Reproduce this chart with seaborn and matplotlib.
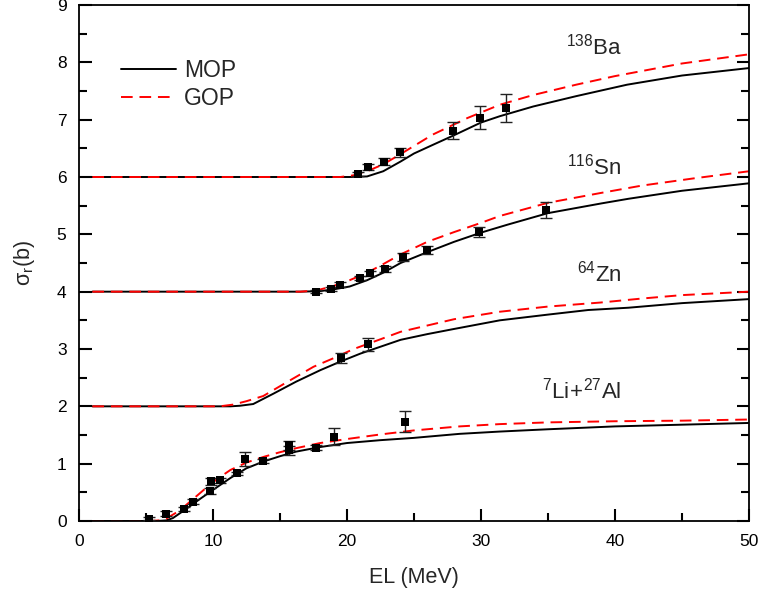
import matplotlib
matplotlib.use("Agg")
import matplotlib.pyplot as plt
import seaborn as sns
import numpy as np
import pandas as pd
from matplotlib.ticker import MultipleLocator

# ---- curve data (theory) ----
li_mop_x = [1, 5.8, 6.5, 7.0, 8.0, 9.0, 9.8, 11.3, 12.5, 13.8, 15, 16.2, 18, 20, 22.5, 25, 28.4, 31.4, 35, 40, 45, 50]
li_mop_y = [0, 0, 0.01, 0.05, 0.21, 0.38, 0.51, 0.75, 0.92, 1.04, 1.13, 1.21, 1.29, 1.36, 1.41, 1.45, 1.52, 1.56, 1.6, 1.65, 1.68, 1.71]
li_gop_x = [1, 5.2, 6.0, 6.5, 7.5, 8.5, 9.3, 10.3, 11.3, 12.5, 13.8, 15, 16.2, 18, 20, 22.5, 25, 28.4, 31.4, 35, 40, 45, 50]
li_gop_y = [0, 0, 0.01, 0.04, 0.18, 0.38, 0.54, 0.73, 0.89, 1.02, 1.12, 1.2, 1.27, 1.36, 1.43, 1.51, 1.58, 1.65, 1.69, 1.72, 1.74, 1.75, 1.77]

zn_mop_x = [1, 11.3, 12.0, 13.0, 14.5, 16.2, 18, 19.5, 21, 22.5, 24, 26, 28, 31.4, 35, 38, 41, 45, 50]
zn_mop_y = [2, 2, 2.01, 2.04, 2.22, 2.43, 2.63, 2.78, 2.92, 3.04, 3.16, 3.26, 3.35, 3.5, 3.6, 3.68, 3.72, 3.8, 3.87]
zn_gop_x = [1, 10.5, 11.5, 12.5, 13.75, 15.5, 17.5, 19, 20.5, 22.5, 24, 26, 28, 31.4, 35, 38.9, 42, 45, 50]
zn_gop_y = [2, 2, 2.03, 2.09, 2.18, 2.42, 2.69, 2.84, 3.0, 3.17, 3.3, 3.41, 3.52, 3.65, 3.74, 3.81, 3.88, 3.94, 4.0]

sn_mop_x = [1, 16.5, 18, 19, 20.2, 21.5, 22.7, 24, 26, 28, 30, 32, 35, 39, 41, 45, 50]
sn_mop_y = [4, 4, 4.01, 4.04, 4.09, 4.2, 4.33, 4.5, 4.69, 4.87, 5.03, 5.17, 5.37, 5.54, 5.62, 5.76, 5.89]
sn_gop_x = [1, 16.5, 17.7, 19, 20.2, 21.5, 22.7, 24, 26, 28, 30, 31.4, 35, 38.9, 42, 46, 50]
sn_gop_y = [4, 4, 4.02, 4.1, 4.2, 4.33, 4.48, 4.65, 4.87, 5.04, 5.2, 5.32, 5.55, 5.72, 5.85, 5.98, 6.1]

ba_mop_x = [1, 20.2, 21.5, 22.7, 24, 25, 26.4, 28, 29, 30, 31.4, 33.9, 37.1, 40.9, 45, 50]
ba_mop_y = [6, 6, 6.01, 6.1, 6.27, 6.41, 6.56, 6.73, 6.84, 6.95, 7.06, 7.23, 7.41, 7.61, 7.77, 7.9]
ba_gop_x = [1, 19.5, 20.5, 21.5, 22.7, 24, 26.4, 29, 31.4, 33.9, 37.1, 40, 45, 50]
ba_gop_y = [6, 6, 6.03, 6.1, 6.22, 6.4, 6.74, 7.03, 7.26, 7.43, 7.61, 7.76, 7.98, 8.14]

# ---- experimental points ----
li_x = [5.2, 6.5, 7.8, 8.5, 9.8, 9.85, 10.5, 11.8, 12.4, 13.7, 15.7, 15.7, 17.7, 19.0, 24.3]
li_y = [0.04, 0.13, 0.21, 0.34, 0.52, 0.69, 0.71, 0.83, 1.08, 1.05, 1.23, 1.32, 1.28, 1.47, 1.73]
li_e = [0.03, 0.04, 0.03, 0.04, 0.05, 0.06, 0.04, 0.03, 0.12, 0.04, 0.08, 0.08, 0.04, 0.15, 0.18]
zn_x = [19.55, 21.55]
zn_y = [2.84, 3.08]
zn_e = [0.09, 0.12]
sn_x = [17.7, 18.8, 19.5, 21.0, 21.7, 22.8, 24.15, 25.95, 29.87, 34.85]
sn_y = [4.0, 4.05, 4.12, 4.24, 4.32, 4.39, 4.61, 4.72, 5.04, 5.43]
sn_e = [0.03, 0.03, 0.04, 0.04, 0.04, 0.05, 0.07, 0.07, 0.09, 0.14]
ba_x = [20.8, 21.6, 22.75, 23.95, 27.9, 29.9, 31.9]
ba_y = [6.05, 6.18, 6.27, 6.43, 6.81, 7.03, 7.2]
ba_e = [0.03, 0.05, 0.06, 0.08, 0.15, 0.2, 0.24]

labels = [r"$\mathregular{^{138}Ba}$", r"$\mathregular{^{116}Sn}$",
          r"$\mathregular{^{64}Zn}$", r"$\mathregular{^{7}Li\!+\!^{27}Al}$"]
label_y = [8.14, 6.05, 4.17, 2.13]

sns.set_style("ticks")
plt.rcParams["font.family"] = ["Liberation Sans", "DejaVu Sans"]
plt.rcParams["mathtext.fontset"] = "custom"
plt.rcParams["mathtext.rm"] = "Liberation Sans"
plt.rcParams["mathtext.it"] = "Liberation Sans:italic"
plt.rcParams["mathtext.bf"] = "Liberation Sans:bold"

fig = plt.figure(figsize=(7.63, 5.97), dpi=100)
ax = fig.add_axes([79/763, 76/597, 670/763, 516/597])

curves = [
    (li_mop_x, li_mop_y, li_gop_x, li_gop_y),
    (zn_mop_x, zn_mop_y, zn_gop_x, zn_gop_y),
    (sn_mop_x, sn_mop_y, sn_gop_x, sn_gop_y),
    (ba_mop_x, ba_mop_y, ba_gop_x, ba_gop_y),
]
for i, (mx, my, gx, gy) in enumerate(curves):
    sns.lineplot(x=mx, y=my, ax=ax, color="black", lw=1.4, estimator=None, sort=False,
                 label="MOP" if i == 0 else None)
    sns.lineplot(x=gx, y=gy, ax=ax, color="red", lw=1.4, estimator=None, sort=False,
                 dashes=False, label="GOP" if i == 0 else None)
    ax.lines[-1].set_dashes([6, 3.5])

for px, py, pe in [(li_x, li_y, li_e), (zn_x, zn_y, zn_e), (sn_x, sn_y, sn_e), (ba_x, ba_y, ba_e)]:
    ax.errorbar(px, py, yerr=pe, fmt="none", ecolor="#222222", elinewidth=1.0,
                capsize=4, capthick=1.0, zorder=3)
    sns.scatterplot(x=px, y=py, ax=ax, marker="s", color="black", s=36,
                    edgecolor="black", linewidth=0, zorder=4)

for t, yy in zip(labels, label_y):
    ax.text(40.5, yy, t, fontsize=16, ha="right", va="baseline")

ax.set_xlabel("EL (MeV)", fontsize=15.5, labelpad=13)
ax.set_ylabel(r"σ$_\mathregular{r}$(b)", fontsize=15.5, labelpad=14)

leg = ax.legend(loc="upper left", bbox_to_anchor=(0.032, 0.935), frameon=False,
                fontsize=16.5, handlelength=2.4, handletextpad=0.35, labelspacing=0.2)

for s in ax.spines.values():
    s.set_linewidth(1.3)
    s.set_color("black")

# axis setup last
ax.set_xlim(0, 50)
ax.set_ylim(0, 9)
ax.xaxis.set_major_locator(MultipleLocator(10))
ax.xaxis.set_minor_locator(MultipleLocator(5))
ax.yaxis.set_major_locator(MultipleLocator(1))
ax.yaxis.set_minor_locator(MultipleLocator(0.5))
ax.tick_params(which="both", direction="in", right=True, width=1.5, color="black")
ax.tick_params(which="major", length=9, pad=9, labelsize=12.5, labelcolor="black")
ax.tick_params(which="minor", length=5.5)

fig.savefig("out.png", dpi=100)

img = plt.imread("out.png")
col = img[508:520, 211:216, 0]
if col.min() > 0.5:
    info = []
    for t in ax.xaxis.get_major_ticks()[:3]:
        l = t.tick1line
        info.append((l.get_visible(), l.get_marker(), l.get_markersize(), l.get_markeredgewidth(),
                     l.get_markeredgecolor(), l.get_zorder(), t.get_visible(), t.get_loc(),
                     l.get_xydata().tolist(), l.get_clip_on(), l.get_alpha()))
    raise RuntimeError("ticks missing " + repr(info))
